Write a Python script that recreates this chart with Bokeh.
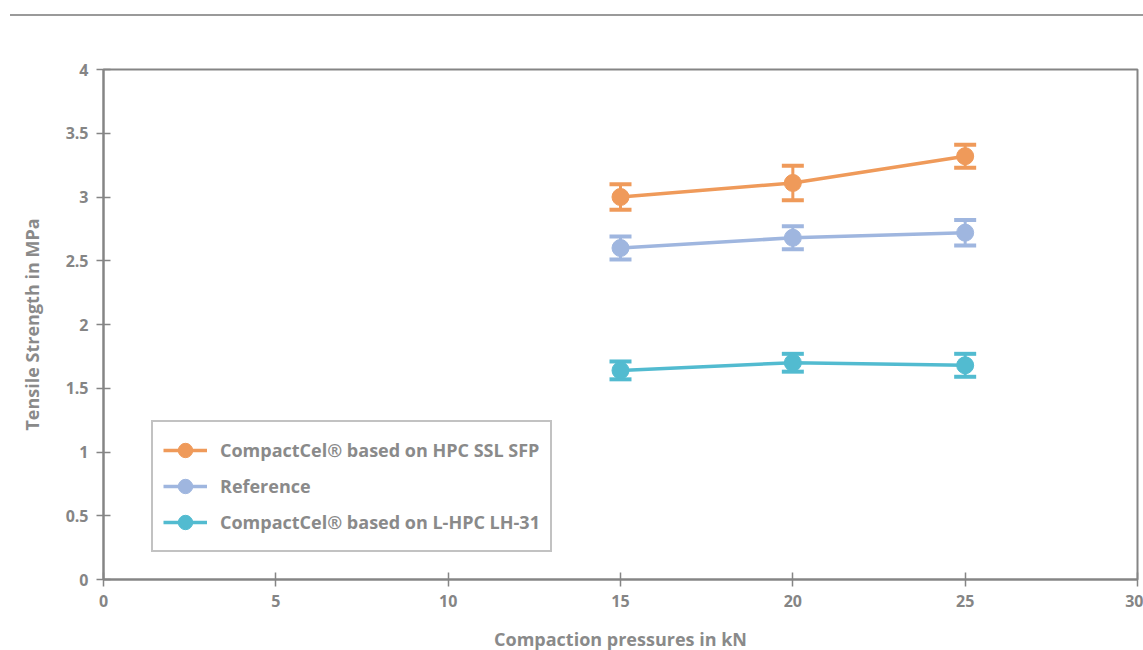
from bokeh.plotting import figure
from bokeh.models import ColumnDataSource, Whisker, TeeHead, Legend, LegendItem, Div, FixedTicker
from bokeh.layouts import column
from bokeh.embed import file_html
from bokeh.resources import INLINE

pressures = [15, 20, 25]
hpc_ssl = [3.0, 3.11, 3.32]
hpc_ssl_err = [0.10, 0.135, 0.09]
reference = [2.60, 2.68, 2.72]
reference_err = [0.09, 0.09, 0.10]
lhpc = [1.64, 1.70, 1.68]
lhpc_err = [0.07, 0.07, 0.09]

names = ["CompactCel® based on HPC SSL SFP", "Reference", "CompactCel® based on L-HPC LH-31"]
colors = ["#ef9a5a", "#9fb6df", "#52bbd0"]
series = [(hpc_ssl, hpc_ssl_err), (reference, reference_err), (lhpc, lhpc_err)]

x_ticks = [0, 5, 10, 15, 20, 25, 30]
y_ticks = [0, 0.5, 1, 1.5, 2, 2.5, 3, 3.5, 4]
y_tick_labels = ["0", "0.5", "1", "1.5", "2", "2.5", "3", "3.5", "4"]

FONT = "Open Sans"
GRAY = "#8a8a8a"
AXIS = "#858585"

p = figure(frame_width=1034, frame_height=510, x_range=(0, 30), y_range=(0, 4),
           output_backend="svg", toolbar_location=None,
           min_border_left=103, min_border_right=6, min_border_top=53, min_border_bottom=20)
p.xgrid.visible = False
p.ygrid.visible = False
p.outline_line_color = AXIS
p.outline_line_width = 2
p.background_fill_color = "white"
p.border_fill_color = "white"

items = []
for (vals, errs), name, c in zip(series, names, colors):
    src = ColumnDataSource(dict(x=pressures, y=vals,
                                upper=[v + e for v, e in zip(vals, errs)],
                                lower=[v - e for v, e in zip(vals, errs)]))
    w = Whisker(base="x", upper="upper", lower="lower", source=src, dimension="height",
                line_color=c, line_width=3,
                upper_head=TeeHead(size=22, line_color=c, line_width=4),
                lower_head=TeeHead(size=22, line_color=c, line_width=4))
    p.add_layout(w)
    l = p.line("x", "y", source=src, line_color=c, line_width=3.5)
    s = p.scatter("x", "y", source=src, size=17, fill_color=c, line_color=c)
    items.append(LegendItem(label=name, renderers=[l, s]))

legend = Legend(items=items, location=(48, 27), border_line_color=AXIS, border_line_width=2,
                label_text_font=FONT, label_text_font_style="bold", label_text_font_size="18px",
                label_text_color=GRAY, padding=10, spacing=0, glyph_height=36, label_height=36,
                glyph_width=44, label_standoff=13, background_fill_alpha=1)
p.add_layout(legend, "center")

for ax in (p.xaxis[0], p.yaxis[0]):
    ax.axis_line_color = AXIS
    ax.axis_line_width = 2
    ax.major_tick_line_color = AXIS
    ax.major_tick_line_width = 1.5
    ax.major_tick_in = 7
    ax.major_tick_out = 7
    ax.minor_tick_line_color = None
    ax.major_label_text_font = FONT
    ax.major_label_text_font_style = "bold"
    ax.major_label_text_font_size = "16px"
    ax.major_label_text_color = "#858585"
    ax.axis_label_text_font = FONT
    ax.axis_label_text_font_style = "bold"
    ax.axis_label_text_font_size = "18px"
    ax.axis_label_text_color = GRAY

p.xaxis.ticker = FixedTicker(ticks=x_ticks)
p.yaxis.ticker = FixedTicker(ticks=y_ticks)
p.yaxis.major_label_overrides = {t: s for t, s in zip(y_ticks, y_tick_labels)}
p.xaxis.major_label_standoff = 8
p.yaxis.major_label_standoff = 8
p.xaxis.axis_label = "Compaction pressures in kN"
p.yaxis.axis_label = "Tensile Strength in MPa"
p.xaxis.axis_label_standoff = 17
p.yaxis.axis_label_standoff = 19

top = Div(text="", width=1133, height=16, margin=(0, 0, 0, 10),
          styles={"border-bottom": "2px solid #9a9a9a", "box-sizing": "border-box"})

layout = column(top, p, spacing=0)
open("out.html", "w").write(file_html(layout, INLINE))
